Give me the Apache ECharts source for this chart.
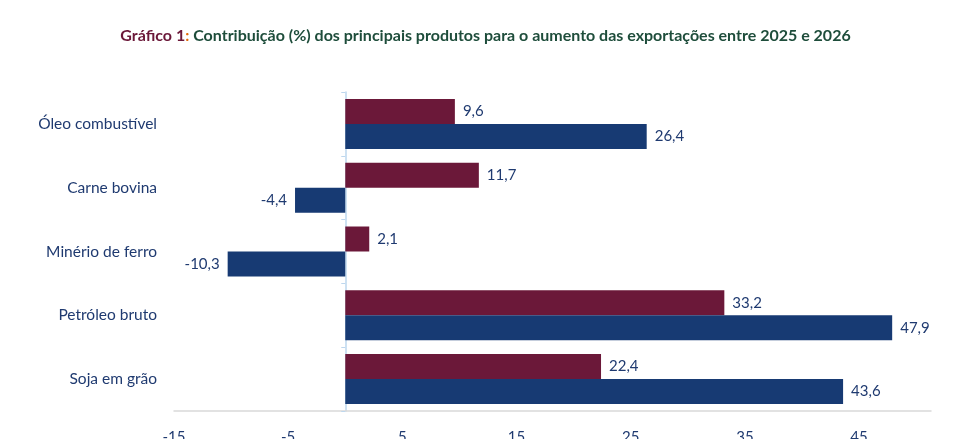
<!DOCTYPE html>
<html>
<head>
<meta charset="utf-8">
<script src="https://cdn.jsdelivr.net/npm/echarts@6/dist/echarts.min.js"></script>
<style>
  html, body { margin: 0; padding: 0; background: #fff; }
  #chart { width: 971px; height: 439px; }
</style>
</head>
<body>
<div id="chart"></div>
<script>
var produtos = ['Óleo combustível', 'Carne bovina', 'Minério de ferro', 'Petróleo bruto', 'Soja em grão'];
var contrib2025 = [9.6, 11.7, 2.1, 33.2, 22.4];
var contrib2026 = [26.4, -4.4, -10.3, 47.9, 43.6];
var xTicks = [-15, -5, 5, 15, 25, 35, 45];

var fonte = 'Lato, "Open Sans", sans-serif';
var azulTexto = '#1F3A70';

function rotulo(v) {
  return v.toFixed(1).replace('.', ',');
}

// negative bars get their label on the left side
function montar(valores) {
  return valores.map(function (v) {
    return {
      value: v,
      label: { position: v < 0 ? 'left' : 'right' }
    };
  });
}

var chart = echarts.init(document.getElementById('chart'));
chart.setOption({
  animation: false,
  title: {
    left: 'center',
    top: 23,
    text: '{a|Gráfico 1}{b|:}{c| Contribuição (%) dos principais produtos para o aumento das exportações entre 2025 e 2026}',
    textStyle: {
      fontFamily: fonte,
      rich: {
        a: { color: '#6B1839', fontWeight: 'bold', fontSize: 16, fontFamily: fonte },
        b: { color: '#E46C0A', fontWeight: 'bold', fontSize: 16, fontFamily: fonte },
        c: { color: '#1E4D3B', fontWeight: 'bold', fontSize: 16, fontFamily: fonte }
      }
    }
  },
  grid: { left: 174, right: 40, top: 92, bottom: 28, containLabel: false, outerBoundsMode: 'none' },
  xAxis: {
    type: 'value',
    min: -15,
    max: 51.3,
    interval: 10,
    axisLine: { show: true, onZero: false, lineStyle: { color: '#D9D9D9', width: 1.5 } },
    axisTick: { show: false },
    splitLine: { show: false },
    axisLabel: {
      margin: 19,
      fontSize: 15,
      color: azulTexto,
      fontFamily: fonte,
      showMaxLabel: false,
      formatter: function (v) {
        return xTicks.indexOf(v) >= 0 ? String(v) : '';
      }
    }
  },
  yAxis: [{
    type: 'category',
    data: produtos,
    inverse: true,
    axisLine: { show: false, onZero: false },
    axisTick: { show: false },
    axisLabel: { margin: 17, fontSize: 15.5, color: azulTexto, fontFamily: fonte }
  }, {
    type: 'category',
    data: produtos,
    inverse: true,
    position: 'left',
    axisLine: { show: true, onZero: true, lineStyle: { color: '#BDD7EE', width: 1.5 } },
    axisTick: { show: true, length: 4, lineStyle: { color: '#BDD7EE' } },
    axisLabel: { show: false }
  }],
  series: [{
    name: '2025',
    type: 'bar',
    data: montar(contrib2025),
    barWidth: 25,
    barGap: '0%',
    itemStyle: { color: '#6B1839' },
    label: {
      show: true,
      distance: 8,
      fontSize: 15,
      color: azulTexto,
      fontFamily: fonte,
      formatter: function (p) { return rotulo(p.value); }
    }
  }, {
    name: '2026',
    type: 'bar',
    data: montar(contrib2026),
    barWidth: 25,
    barGap: '0%',
    itemStyle: { color: '#173A73' },
    label: {
      show: true,
      distance: 8,
      fontSize: 15,
      color: azulTexto,
      fontFamily: fonte,
      formatter: function (p) { return rotulo(p.value); }
    }
  }]
});
</script>
</body>
</html>
